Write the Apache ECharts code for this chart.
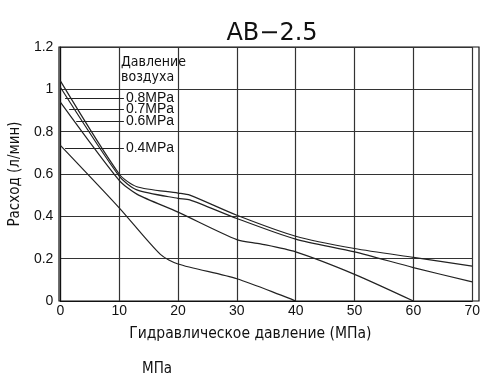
<!DOCTYPE html>
<html>
<head>
<meta charset="utf-8">
<script src="https://cdn.jsdelivr.net/npm/echarts@6/dist/echarts.min.js"></script>
<style>
  html, body { margin: 0; padding: 0; background: #fff; }
  #chart { width: 483px; height: 383px; }
</style>
</head>
<body>
<div id="chart"></div>
<script>
// values
const curve08 = [[0, 1.04], [10, 0.6], [13, 0.54], [20, 0.51], [22, 0.5], [30, 0.405], [40, 0.306], [50, 0.248], [60, 0.206], [70, 0.165]];
const curve07 = [[0, 1.01], [10, 0.59], [13, 0.525], [20, 0.485], [22, 0.478], [30, 0.39], [40, 0.292], [50, 0.232], [60, 0.158], [70, 0.09]];
const curve06 = [[0, 0.94], [10, 0.57], [13, 0.505], [20, 0.42], [30, 0.29], [34, 0.27], [40, 0.232], [50, 0.126], [60, 0]];
const curve04 = [[0, 0.735], [10, 0.44], [17, 0.22], [20, 0.175], [30, 0.105], [40, 0]];

const seriesNames = ["0.8MPa", "0.7MPa", "0.6MPa", "0.4MPa"];
// leader lines: start x and y level for each label
const leaderStart = [0.8, 1.5, 2.7, 0.8];
const leaderY = [0.958, 0.906, 0.848, 0.724];
const leaderEnd = 10.8;

const narrow = "'DejaVu Sans Condensed', 'Roboto', sans-serif";

const chart = echarts.init(document.getElementById("chart"));

const lineStyle = { color: "#222", width: 1.2 };
const allCurves = [curve08, curve07, curve06, curve04];

const series = allCurves.map(function (d, i) {
  return {
    name: seriesNames[i],
    type: "line",
    data: d,
    smooth: 0.25,
    symbol: "none",
    lineStyle: lineStyle,
    silent: true,
    markLine: {
      symbol: "none",
      silent: true,
      lineStyle: { color: "#222", width: 1, type: "solid" },
      label: {
        show: true,
        position: "end",
        distance: 2,
        formatter: seriesNames[i],
        color: "#111",
        fontFamily: "Liberation Sans",
        fontSize: 14,
      },
      data: [[
        { coord: [leaderStart[i], leaderY[i]] },
        { coord: [leaderEnd, leaderY[i]] },
      ]],
    },
  };
});

chart.setOption({
  animation: false,
  title: {
    text: "AB\u22122.5",
    left: 267,
    top: 17,
    textAlign: "center",
    textStyle: { fontFamily: "DejaVu Sans", fontWeight: "normal", fontSize: 24, color: "#111" },
  },
  grid: { left: 59, top: 47, right: 4, bottom: 82 },
  xAxis: {
    type: "value",
    min: 0,
    max: 70,
    interval: 10,
    name: "Гидравлическое давление (МПа)",
    nameLocation: "middle",
    nameGap: 25,
    nameTextStyle: { fontFamily: narrow, fontSize: 15.5, color: "#111", padding: [0, 32, 0, 0] },
    axisLine: { lineStyle: { color: "#111", width: 1.2 } },
    axisTick: { show: false },
    axisLabel: { fontFamily: "Liberation Sans", fontSize: 14, color: "#111", margin: 3 },
    splitLine: { show: true, lineStyle: { color: "#333", width: 1.2 } },
  },
  yAxis: {
    type: "value",
    min: 0,
    max: 1.2,
    interval: 0.2,
    name: "Расход (л/мин)",
    nameLocation: "middle",
    nameGap: 34,
    nameTextStyle: { fontFamily: narrow, fontSize: 15, color: "#111" },
    axisLine: { show: true, lineStyle: { color: "#111", width: 1.2 } },
    axisTick: { show: false },
    axisLabel: { fontFamily: "Liberation Sans", fontSize: 14, color: "#111", margin: 7 },
    splitLine: { show: true, lineStyle: { color: "#333", width: 1.2 } },
  },
  graphic: [
    {
      type: "rect",
      shape: { x: 59, y: 47, width: 420, height: 254 },
      style: { fill: "none", stroke: "#111", lineWidth: 1.2 },
      silent: true,
    },
    {
      type: "text",
      left: 121,
      top: 55,
      style: {
        text: "Давление\nвоздуха",
        font: "14px " + narrow,
        lineHeight: 15,
        fill: "#111",
      },
    },
    {
      type: "text",
      left: 142,
      top: 362,
      style: { text: "МПа", font: "15px " + narrow, fill: "#111" },
    },
  ],
  series: series,
});
</script>
</body>
</html>
